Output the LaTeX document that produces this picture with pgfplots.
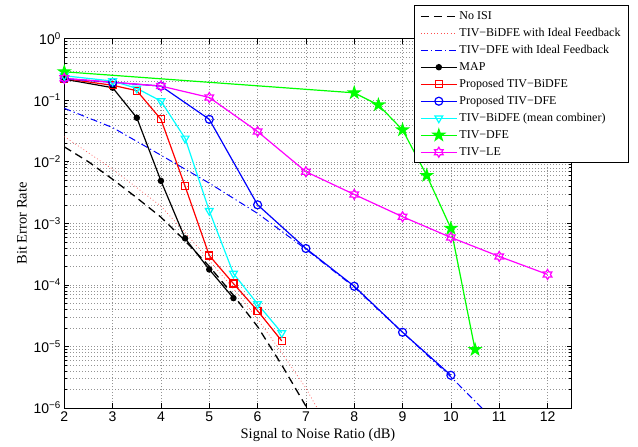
\documentclass[border=0pt]{standalone}
\usepackage{fontspec}
\setmainfont{Liberation Serif}
\setsansfont{Liberation Sans}
\usepackage{pgfplots}
\pgfplotsset{compat=1.18}
\definecolor{mcyan}{rgb}{0,1,1}
\definecolor{mmag}{rgb}{1,0,1}
\definecolor{mgreen}{rgb}{0,1,0}
\definecolor{mred}{rgb}{1,0,0}
\definecolor{mblue}{rgb}{0,0,1}

\pgfdeclareplotmark{pentagram}{%
\pgfpathmoveto{\pgfqpointpolar{90}{\pgfplotmarksize}}%
\pgfpathlineto{\pgfqpointpolar{126}{0.382\pgfplotmarksize}}%
\pgfpathlineto{\pgfqpointpolar{162}{\pgfplotmarksize}}%
\pgfpathlineto{\pgfqpointpolar{198}{0.382\pgfplotmarksize}}%
\pgfpathlineto{\pgfqpointpolar{234}{\pgfplotmarksize}}%
\pgfpathlineto{\pgfqpointpolar{270}{0.382\pgfplotmarksize}}%
\pgfpathlineto{\pgfqpointpolar{306}{\pgfplotmarksize}}%
\pgfpathlineto{\pgfqpointpolar{342}{0.382\pgfplotmarksize}}%
\pgfpathlineto{\pgfqpointpolar{18}{\pgfplotmarksize}}%
\pgfpathlineto{\pgfqpointpolar{54}{0.382\pgfplotmarksize}}%
\pgfpathclose
\pgfusepathqfillstroke}

\pgfdeclareplotmark{hexagram}{%
\pgfpathmoveto{\pgfqpointpolar{90}{\pgfplotmarksize}}%
\pgfpathlineto{\pgfqpointpolar{120}{0.577\pgfplotmarksize}}%
\pgfpathlineto{\pgfqpointpolar{150}{\pgfplotmarksize}}%
\pgfpathlineto{\pgfqpointpolar{180}{0.577\pgfplotmarksize}}%
\pgfpathlineto{\pgfqpointpolar{210}{\pgfplotmarksize}}%
\pgfpathlineto{\pgfqpointpolar{240}{0.577\pgfplotmarksize}}%
\pgfpathlineto{\pgfqpointpolar{270}{\pgfplotmarksize}}%
\pgfpathlineto{\pgfqpointpolar{300}{0.577\pgfplotmarksize}}%
\pgfpathlineto{\pgfqpointpolar{330}{\pgfplotmarksize}}%
\pgfpathlineto{\pgfqpointpolar{0}{0.577\pgfplotmarksize}}%
\pgfpathlineto{\pgfqpointpolar{30}{\pgfplotmarksize}}%
\pgfpathlineto{\pgfqpointpolar{60}{0.577\pgfplotmarksize}}%
\pgfpathclose
\pgfusepathqstroke}

\begin{document}
\begin{tikzpicture}
\begin{axis}[
  scale only axis, width=507.4pt, height=369.3pt,
  ymode=log, xmin=2, xmax=12.5, ymin=1e-6, ymax=1,
  xtick={2,3,4,5,6,7,8,9,10,11,12},
  xticklabels={2,3,4,5,6,7,8,9,10,11,12},
  ytick={1e-6,1e-5,1e-4,1e-3,1e-2,1e-1,1},
  yticklabels={10\textsuperscript{−6},10\textsuperscript{−5},10\textsuperscript{−4},10\textsuperscript{−3},10\textsuperscript{−2},10\textsuperscript{−1},10\textsuperscript{0}},
  tick label style={font=\fontsize{14}{14}\sffamily},
  label style={font=\fontsize{14.5}{16}\selectfont},
  xlabel={Signal to Noise Ratio (dB)},
  ylabel={Bit Error Rate},
  tick align=inside, tick pos=both,
  major tick length=5pt, minor tick length=3pt,
  axis line style={line width=1pt},
  every tick/.style={black, line width=0.6pt},
  grid=both, minor x tick num=0,
  major grid style={draw=gray!85, line width=0.45pt, dash pattern=on 0.8pt off 2.2pt},
  minor grid style={draw=gray!85, line width=0.45pt, dash pattern=on 0.8pt off 2.2pt},
  legend image code/.code={\draw[mark repeat=2,mark phase=2,#1] plot coordinates {(0pt,0pt)(18pt,0pt)(36pt,0pt)};},
  legend style={at={(1.113,1.0907)}, anchor=north east, draw=black, line width=1pt, fill=white,
    font=\fontsize{12}{14}\selectfont, row sep=0pt,
    nodes={inner sep=2pt, text height=10pt, text depth=3pt},
    inner xsep=6pt, inner ysep=2pt},
  legend cell align=left,
]
\addplot[black, line width=1.3pt, dash pattern=on 8pt off 5pt] coordinates {(2,1.75e-2)(2.5,1.0e-2)(3,5.2e-3)(3.5,2.6e-3)(4,1.26e-3)(4.5,5.2e-4)(5,2.0e-4)(5.5,6.8e-5)(6,2.1e-5)(6.5,5.0e-6)(7,1.07e-6)(7.1,8e-7)};
\addlegendentry{No ISI}
\addplot[mred!70, line width=0.7pt, dash pattern=on 0.8pt off 2.5pt] coordinates {(2,2.57e-2)(3,7.6e-3)(4,1.9e-3)(4.5,7.1e-4)(5,2.5e-4)(5.5,8.7e-5)(6,2.8e-5)(6.5,7.9e-6)(7,2.1e-6)(7.3,8e-7)};
\addlegendentry{TIV−BiDFE with Ideal Feedback}
\addplot[mblue, line width=1pt, dash pattern=on 7pt off 3pt on 1.2pt off 3pt] coordinates {(2,7.4e-2)(3,3.6e-2)(4,1.28e-2)(5,4.5e-3)(6,1.45e-3)(7,3.8e-4)(8,9.2e-5)(9,1.7e-5)(10,3.2e-6)(10.7,9e-7)};
\addlegendentry{TIV−DFE with Ideal Feedback}
\addplot[black, line width=1.2pt, mark=*, mark size=2.6pt] coordinates {(2,0.22)(3,0.16)(3.5,0.052)(4,4.9e-3)(4.5,5.7e-4)(5,1.78e-4)(5.5,6.1e-5)};
\addlegendentry{MAP}
\addplot[mred, line width=1.2pt, mark=square, mark size=3.5pt, mark options={solid}] coordinates {(2,0.225)(3,0.175)(3.5,0.143)(4,0.049)(4.5,4.0e-3)(5,3.0e-4)(5.5,1.05e-4)(6,3.8e-5)(6.5,1.23e-5)};
\addlegendentry{Proposed TIV−BiDFE}
\addplot[mblue, line width=1.2pt, mark=o, mark size=4pt] coordinates {(2,0.225)(3,0.195)(4,0.17)(5,0.049)(6,2.0e-3)(7,3.9e-4)(8,9.5e-5)(9,1.7e-5)(10,3.4e-6)};
\addlegendentry{Proposed TIV−DFE}
\addplot[mcyan, line width=1.2pt, mark=triangle, mark size=4.5pt, mark options={rotate=180}] coordinates {(2,0.25)(3,0.205)(3.5,0.156)(4,0.097)(4.5,0.024)(5,1.6e-3)(5.5,1.53e-4)(6,4.9e-5)(6.5,1.66e-5)};
\addlegendentry{TIV−BiDFE (mean combiner)}
\addplot[mgreen, line width=1.2pt, mark=pentagram, mark size=6pt, mark options={fill=mgreen}] coordinates {(2,0.29)(8,0.132)(8.5,0.084)(9,0.033)(9.5,6.0e-3)(10,8.3e-4)(10.5,8.9e-6)};
\addlegendentry{TIV−DFE}
\addplot[mmag, line width=1.2pt, mark=hexagram, mark size=5pt] coordinates {(2,0.227)(4,0.17)(5,0.111)(6,0.031)(7,6.9e-3)(8,2.95e-3)(9,1.28e-3)(10,5.9e-4)(11,2.9e-4)(12,1.48e-4)};
\addlegendentry{TIV−LE}
\end{axis}
\pgfresetboundingbox
\path[use as bounding box] (-64.3pt,-39pt) rectangle (573.7pt,408pt);
\end{tikzpicture}
\end{document}
